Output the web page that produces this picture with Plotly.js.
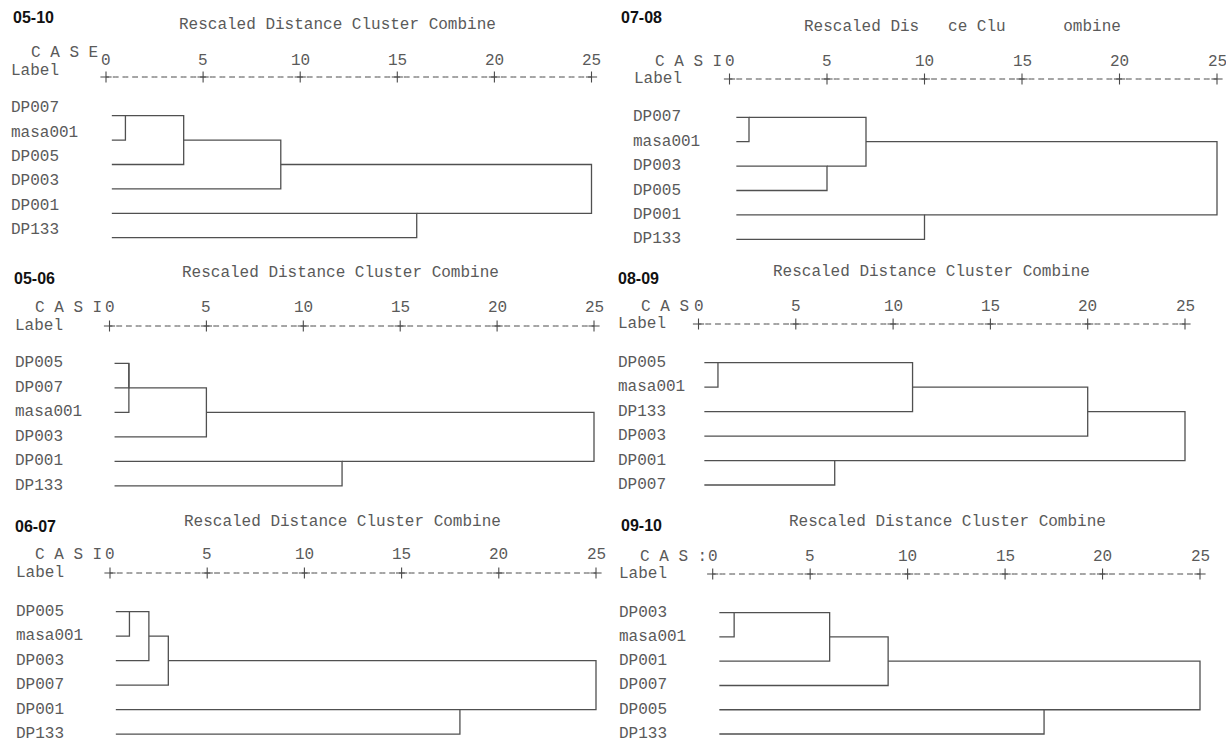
<!DOCTYPE html>
<html>
<head>
<meta charset="utf-8">
<script src="https://cdn.plot.ly/plotly-3.0.1.min.js"></script>
<style>html,body{margin:0;padding:0;background:#fff;}#chart{width:1226px;height:742px;}</style>
</head>
<body>
<div id="chart"></div>
<script>
// ---------------- DATA ----------------
const panelNames = ['05-10', '07-08', '05-06', '08-09', '06-07', '09-10'];

const axisTitleFull = 'Rescaled Distance Cluster Combine';
const axisTitle0708 = 'Rescaled Dis\u00a0\u00a0\u00a0ce Clu\u00a0\u00a0\u00a0\u00a0\u00a0\u00a0ombine';
const axisTitles = [axisTitleFull, axisTitle0708, axisTitleFull, axisTitleFull, axisTitleFull, axisTitleFull];

const caseHeaders = ['C A S E', 'C A S I', 'C A S I', 'C A S', 'C A S I', 'C A S :'];
const labelHeader = 'Label';

const tickValues = [0, 5, 10, 15, 20, 25];
const tickLabels = ['0', '5', '10', '15', '20', '25'];

// leaf order (top to bottom) for each period
const leaves0510 = ['DP007', 'masa001', 'DP005', 'DP003', 'DP001', 'DP133'];
const leaves0708 = ['DP007', 'masa001', 'DP003', 'DP005', 'DP001', 'DP133'];
const leaves0506 = ['DP005', 'DP007', 'masa001', 'DP003', 'DP001', 'DP133'];
const leaves0809 = ['DP005', 'masa001', 'DP133', 'DP003', 'DP001', 'DP007'];
const leaves0607 = ['DP005', 'masa001', 'DP003', 'DP007', 'DP001', 'DP133'];
const leaves0910 = ['DP003', 'masa001', 'DP001', 'DP007', 'DP005', 'DP133'];

// agglomeration: [cluster A (first leaf index), cluster B (first leaf index), rescaled distance]
const merges0510 = [[0, 1, 1.0], [0, 2, 4.0], [0, 3, 9.0], [4, 5, 16.0], [0, 4, 25.0]];
const merges0708 = [[0, 1, 1.0], [2, 3, 5.0], [0, 2, 7.0], [4, 5, 10.0], [0, 4, 25.0]];
const merges0506 = [[0, 1, 1.0], [0, 2, 1.0], [0, 3, 5.0], [4, 5, 12.0], [0, 4, 25.0]];
const merges0809 = [[0, 1, 1.0], [4, 5, 7.0], [0, 2, 11.0], [0, 3, 20.0], [0, 4, 25.0]];
const merges0607 = [[0, 1, 1.0], [0, 2, 2.0], [0, 3, 3.0], [4, 5, 18.0], [0, 4, 25.0]];
const merges0910 = [[0, 1, 1.1], [0, 2, 6.0], [0, 3, 9.0], [4, 5, 17.0], [0, 4, 25.0]];

const panelLeaves = [leaves0510, leaves0708, leaves0506, leaves0809, leaves0607, leaves0910];
const panelMerges = [merges0510, merges0708, merges0506, merges0809, merges0607, merges0910];

// ---------------- LAYOUT / STYLE ----------------
const W = 1226, H = 742;
const MONO = 'Liberation Mono, Courier New, monospace';
const SANS = 'Liberation Sans, Arial, sans-serif';
const monoSize = 16;
const textGray = '#5a5a5a';
const lineGray = '#505050';

// pixel geometry for each panel
const geo = [
  {l: 0,   r: 613,  t: 0,   b: 250, x0: 106,   x25: 591.5, row0: 115.7, sp: 24.4,  labX: 11,  labDy: -7.5, plusY: 77, tickY: 61, nameX: 13,  nameY: 17,  titleX: 179, titleY: 25,  caseX: 31,  caseY: 53,  lblX: 11,  lblY: 71,  leafStart: 0.3},
  {l: 613, r: 1226, t: 0,   b: 250, x0: 729.5, x25: 1217,  row0: 117.3, sp: 24.4,  labX: 633, labDy: 0,    plusY: 79, tickY: 62, nameX: 621, nameY: 17,  titleX: 804, titleY: 27,  caseX: 655, caseY: 62,  lblX: 634, lblY: 79,  leafStart: 0.35},
  {l: 0,   r: 613,  t: 250, b: 497, x0: 109.5, x25: 594,   row0: 363.3, sp: 24.5,  labX: 15,  labDy: 0,    plusY: 326, tickY: 308, nameX: 14, nameY: 278, titleX: 182, titleY: 273, caseX: 35,  caseY: 308, lblX: 15,  lblY: 326, leafStart: 0.26},
  {l: 613, r: 1226, t: 250, b: 497, x0: 698.5, x25: 1185,  row0: 362.7, sp: 24.46, labX: 618, labDy: 0,    plusY: 324, tickY: 307, nameX: 618, nameY: 278, titleX: 773, titleY: 272, caseX: 641, caseY: 307, lblX: 618, lblY: 324, leafStart: 0.3},
  {l: 0,   r: 613,  t: 497, b: 742, x0: 110,   x25: 596,   row0: 611.7, sp: 24.5,  labX: 16,  labDy: 0,    plusY: 573, tickY: 555, nameX: 15, nameY: 526, titleX: 184, titleY: 522, caseX: 35,  caseY: 555, lblX: 16,  lblY: 573, leafStart: 0.3},
  {l: 613, r: 1226, t: 497, b: 742, x0: 712.7, x25: 1200,  row0: 612.7, sp: 24.26, labX: 619, labDy: 0,    plusY: 574, tickY: 557, nameX: 621, nameY: 525, titleX: 789, titleY: 522, caseX: 640, caseY: 557, lblX: 619, lblY: 574, leafStart: 0.34}
];

const traces = [];
const layout = {
  width: W, height: H,
  margin: {l: 0, r: 0, t: 0, b: 0, pad: 0},
  paper_bgcolor: '#ffffff', plot_bgcolor: 'rgba(0,0,0,0)',
  showlegend: false,
  annotations: [],
  hovermode: false
};

const px = (v) => v / W;
const py = (v) => 1 - v / H;

panelNames.forEach((name, k) => {
  const g = geo[k];
  const idx = k + 1;
  const xa = 'x' + idx, ya = 'y' + idx;
  const u = (g.x25 - g.x0) / 25;
  const leaves = panelLeaves[k];
  const merges = panelMerges[k];

  layout['xaxis' + idx] = {
    domain: [g.l / W, g.r / W],
    range: [(g.l - g.x0) / u, (g.r - g.x0) / u],
    anchor: ya, visible: false, fixedrange: true
  };
  layout['yaxis' + idx] = {
    domain: [1 - g.b / H, 1 - g.t / H],
    range: [(g.b - g.row0) / g.sp, (g.t - g.row0) / g.sp],
    anchor: xa, visible: false, fixedrange: true
  };

  // dendrogram segments
  const cl = leaves.map((_, i) => ({row: i, x: g.leafStart}));
  const xs = [], ys = [];
  merges.forEach(([a, b, d]) => {
    const ca = cl[a], cb = cl[b];
    xs.push(ca.x, d, d, cb.x, null);
    ys.push(ca.row, ca.row, cb.row, cb.row, null);
    cl[a] = {row: Math.floor((ca.row + cb.row) / 2), x: d};
  });
  traces.push({
    type: 'scatter', mode: 'lines', x: xs, y: ys, xaxis: xa, yaxis: ya,
    line: {color: lineGray, width: 1.3}, hoverinfo: 'skip', connectgaps: false
  });

  // header ruler  +---------+---------+ ...
  const half = u / 2;
  const dashLen = half * 0.6;
  const hd = dashLen / 2;
  const headerY = (g.plusY - g.row0) / g.sp;
  traces.push({
    type: 'scatter', mode: 'lines+markers',
    x: tickValues, y: tickValues.map(() => headerY),
    xaxis: xa, yaxis: ya, cliponaxis: false,
    line: {color: '#4a4a4a', width: 1, dash: hd.toFixed(2) + 'px,' + (half - dashLen).toFixed(2) + 'px,' + hd.toFixed(2) + 'px,0px'},
    marker: {symbol: 'cross-thin', size: 8, line: {color: '#4a4a4a', width: 1.1}, color: '#4a4a4a'},
    hoverinfo: 'skip'
  });

  const ann = layout.annotations;
  tickValues.forEach((v, i) => {
    ann.push({xref: xa, yref: 'paper', x: v, y: py(g.tickY), xanchor: 'center', yanchor: 'middle',
      text: tickLabels[i], showarrow: false, font: {family: MONO, size: monoSize, color: textGray}});
  });
  leaves.forEach((lab, i) => {
    ann.push({xref: 'paper', yref: ya, x: px(g.labX - 2), y: i + g.labDy / g.sp, xanchor: 'left', yanchor: 'middle',
      text: lab, showarrow: false, font: {family: MONO, size: monoSize, color: textGray}});
  });
  ann.push({xref: 'paper', yref: 'paper', x: px(g.nameX - 2), y: py(g.nameY), xanchor: 'left', yanchor: 'middle',
    text: '<b>' + name + '</b>', showarrow: false, font: {family: SANS, size: 16, color: '#111111'}});
  ann.push({xref: 'paper', yref: 'paper', x: px(g.titleX - 2), y: py(g.titleY), xanchor: 'left', yanchor: 'middle',
    text: axisTitles[k], showarrow: false, font: {family: MONO, size: monoSize, color: textGray}});
  ann.push({xref: 'paper', yref: 'paper', x: px(g.caseX - 2), y: py(g.caseY), xanchor: 'left', yanchor: 'middle',
    text: caseHeaders[k], showarrow: false, font: {family: MONO, size: monoSize, color: textGray}});
  ann.push({xref: 'paper', yref: 'paper', x: px(g.lblX - 2), y: py(g.lblY), xanchor: 'left', yanchor: 'middle',
    text: labelHeader, showarrow: false, font: {family: MONO, size: monoSize, color: textGray}});
});

Plotly.newPlot('chart', traces, layout, {staticPlot: true, displayModeBar: false});
</script>
</body>
</html>
